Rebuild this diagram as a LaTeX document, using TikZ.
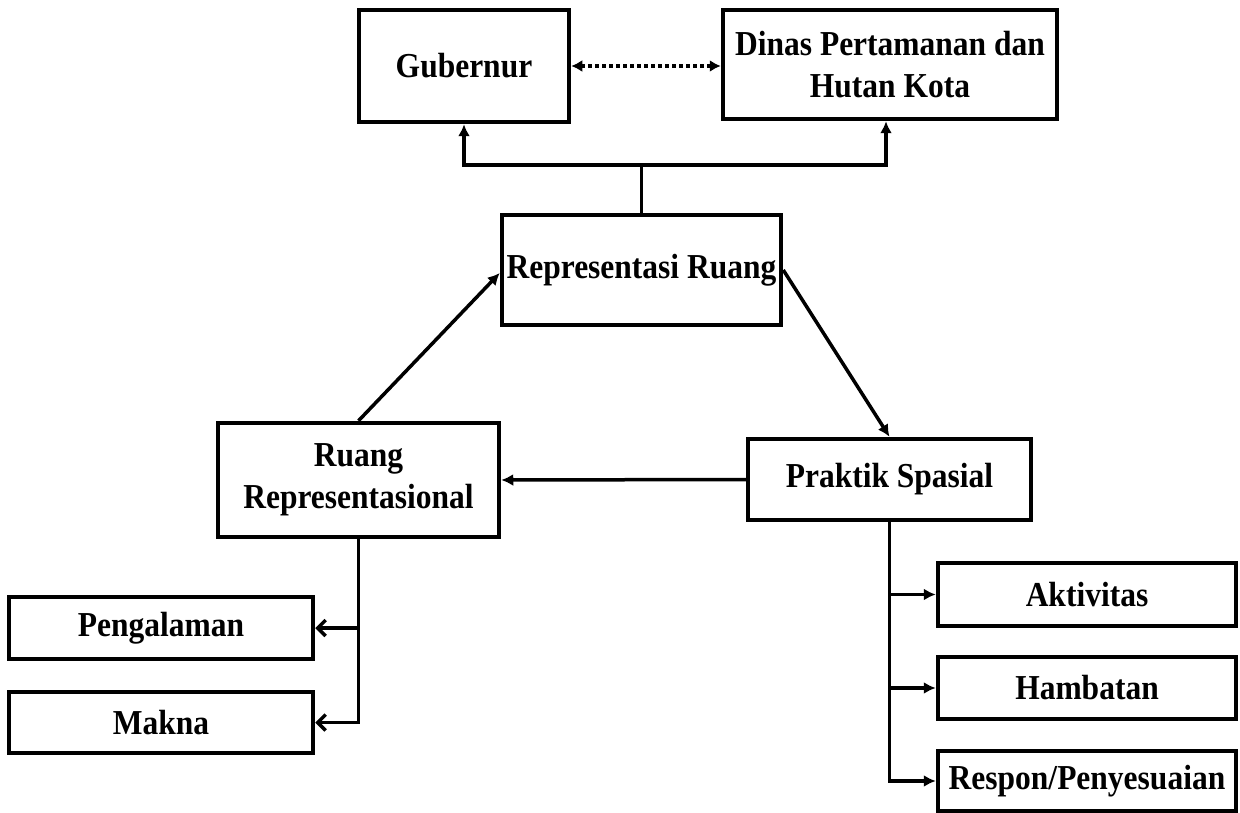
\documentclass[tikz,border=0pt]{standalone}
\usepackage{fontspec}
\setmainfont[FakeStretch=0.9]{Liberation Serif}
\usetikzlibrary{arrows.meta}
\begin{document}
\begin{tikzpicture}[x=1pt,y=-1pt,
  box/.style={draw, line width=4.5pt, rectangle, inner sep=0pt, align=center,
    font=\fontsize{35}{42}\selectfont\bfseries},
  conn/.style={line width=3.5pt},
  arr/.style={conn, -{Latex[length=12pt,width=12pt]}},
  oarr/.style={conn, -{Straight Barb[length=8pt,width=16pt,line width=3.5pt]}},
  dotarr/.style={line width=3.5pt, dash pattern=on 3.5pt off 3.5pt,
    {Latex[length=11pt,width=12pt]}-{Latex[length=11pt,width=12pt]}}
]
\useasboundingbox (0,0) rectangle (1240,813);
\fill[white] (0,0) rectangle (1240,813);

\node[box, minimum width=210pt, minimum height=112pt] (gub) at (464,66) {Gubernur};
\node[box, minimum width=334pt, minimum height=109pt] (dinas) at (890,64.5) {Dinas Pertamanan dan\\Hutan Kota};
\node[box, minimum width=279pt, minimum height=110pt] (rep) at (641.5,270) {Representasi Ruang};
\node[box, minimum width=281pt, minimum height=114pt] (rr) at (358.5,480) {Ruang\\Representasional};
\node[box, minimum width=283pt, minimum height=81pt] (ps) at (889.5,479.5) {Praktik Spasial};
\node[box, minimum width=304pt, minimum height=62pt] (peng) at (161,628) {Pengalaman};
\node[box, minimum width=304pt, minimum height=61pt] (makna) at (161,722.5) {Makna};
\node[box, minimum width=298pt, minimum height=63pt] (akt) at (1087,594.5) {Aktivitas};
\node[box, minimum width=298pt, minimum height=62pt] (hamb) at (1087,688) {Hambatan};
\node[box, minimum width=298pt, minimum height=60pt] (resp) at (1087,781) {Respon/Penyesuaian};

% top: dotted double arrow
\draw[dotarr] (gub.east) -- (gub.east -| dinas.west);

% representasi to gubernur and dinas
\coordinate (jt) at (641.5,165);
\draw[conn] (rep.north) -- (jt);
\draw[arr] (jt) -| (gub.south);
\draw[arr] (jt) -| ([xshift=-4pt]dinas.south);

% triangle
\draw[arr] (rr.north) -- ([yshift=-3pt]rep.west);
\draw[arr] (rep.east) -- (ps.north);
\draw[arr] (ps.west) -- (rr.east);

% left branches
\draw[oarr] (rr.south) |- (makna.east);
\draw[oarr] (rr.south |- peng.east) -- (peng.east);

% right branches
\draw[arr] (ps.south) |- (resp.west);
\draw[arr] (ps.south |- akt.west) -- (akt.west);
\draw[arr] (ps.south |- hamb.west) -- (hamb.west);
\end{tikzpicture}
\end{document}
